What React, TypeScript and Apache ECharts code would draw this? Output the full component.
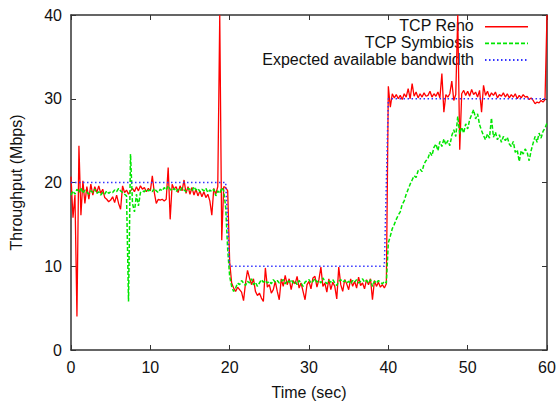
import React, { useEffect, useRef } from "react";
import * as echarts from "echarts";

// Sampling interval of the throughput traces (seconds)
const TIME_STEP = 0.25;

// TCP Reno throughput (Mbps), one value every 0.25 s from 0 to 60 s
const renoThroughput = [
  20.7, 15.8, 18.5, 4.0, 24.4, 16.1, 20.2, 17.5, 19.5, 18.0, 19.8, 18.5, 19.5, 18.8, 19.6, 18.7, 19.2, 18.2, 18.0, 17.7,
  17.9, 18.3, 17.6, 18.5, 17.5, 16.8, 19.6, 18.8, 19.1, 18.6, 19.0, 19.3, 18.9, 19.5, 19.0, 19.6, 19.2, 19.4, 18.9, 19.3,
  19.0, 20.8, 18.8, 17.5, 18.0, 17.9, 18.0, 17.8, 18.0, 21.8, 15.6, 19.8, 19.2, 19.5, 18.8, 19.6, 19.0, 20.3, 18.7, 19.5,
  18.6, 19.4, 18.5, 19.2, 18.4, 19.0, 18.3, 18.9, 18.2, 18.6, 17.8, 16.1, 19.3, 18.6, 19.5, 40.0, 13.1, 19.5, 19.4, 19.0,
  10.5, 8.0, 7.4, 7.0, 7.5, 7.2, 6.9, 5.9, 8.0, 9.5, 8.6, 7.8, 8.5, 7.0, 6.5, 6.8, 6.2, 5.8, 9.8, 7.5,
  7.8, 6.8, 7.2, 8.2, 7.0, 6.0, 8.5, 7.6, 8.9, 7.8, 8.5, 7.2, 8.3, 7.9, 8.8, 7.4, 8.0, 7.0, 6.0, 7.8,
  8.2, 7.3, 8.6, 8.8, 7.5, 8.4, 9.9, 7.6, 8.0, 6.9, 8.5, 7.2, 8.1, 7.6, 6.1, 9.9, 7.8, 7.0, 8.4, 7.9,
  7.2, 8.5, 7.6, 8.2, 7.4, 8.7, 7.7, 8.0, 7.3, 8.4, 7.8, 8.5, 6.0, 8.3, 7.6, 8.1, 7.5, 7.8, 7.4, 7.9,
  31.5, 29.0, 30.6, 30.1, 30.5, 30.0, 30.4, 29.9, 30.6, 30.2, 31.2, 30.0, 31.8, 30.3, 30.8, 30.1, 30.6, 30.2, 30.7, 30.3,
  30.4, 30.9, 30.2, 30.6, 30.3, 30.8, 30.1, 33.0, 28.4, 30.5, 30.2, 30.6, 32.1, 29.8, 30.5, 40.0, 23.9, 30.6, 31.0, 30.4,
  30.9, 30.3, 31.1, 30.5, 30.8, 30.2, 31.0, 28.4, 31.6, 30.4, 30.9, 30.2, 30.7, 30.4, 30.8, 30.1, 30.5, 30.3, 30.7, 30.2,
  30.6, 30.1, 30.5, 30.2, 30.6, 30.0, 30.4, 30.1, 30.5, 30.2, 30.3, 29.9, 30.1, 29.8, 29.4, 29.6, 29.5, 29.8, 29.6, 29.9,
  40.0,
];

// TCP Symbiosis throughput (Mbps), one value every 0.25 s from 0 to 60 s
const symbiosisThroughput = [
  18.5, 19.0, 18.6, 19.2, 18.8, 19.4, 18.7, 19.1, 18.9, 18.6, 19.0, 18.8, 19.2, 18.7, 18.9, 18.5, 18.8, 18.6, 19.0, 18.7,
  18.9, 18.8, 19.1, 18.9, 19.3, 19.0, 18.8, 18.6, 18.4, 5.8, 23.4, 17.5, 16.5, 18.6, 17.2, 18.8, 19.0, 18.9, 19.2, 19.0,
  19.1, 18.9, 19.3, 19.0, 18.8, 19.2, 19.0, 19.4, 19.1, 19.6, 19.2, 19.0, 19.3, 18.9, 19.2, 19.0, 19.4, 19.1, 18.9, 19.3,
  19.2, 19.0, 19.5, 19.1, 19.3, 18.9, 19.2, 19.0, 19.3, 18.8, 19.1, 18.9, 19.2, 18.4, 19.0, 18.7, 19.4, 19.0, 17.0, 12.0,
  8.8, 7.6, 7.0, 7.4, 8.0, 7.8, 8.3, 8.0, 7.7, 8.2, 8.0, 8.5, 7.8, 8.1, 7.6, 8.0, 8.4, 8.1, 8.3, 8.0,
  8.2, 7.9, 8.4, 8.1, 8.3, 8.0, 8.2, 8.4, 7.9, 8.3, 8.1, 8.4, 8.0, 8.2, 7.8, 8.3, 8.0, 7.6, 8.1, 8.3,
  8.4, 8.0, 8.2, 8.5, 8.1, 8.3, 8.0, 8.6, 8.2, 7.9, 8.3, 8.1, 8.4, 8.0, 7.7, 8.2, 8.4, 8.1, 8.3, 8.0,
  8.2, 7.9, 8.3, 8.1, 8.4, 8.0, 8.2, 8.5, 8.1, 8.3, 8.0, 8.4, 7.6, 8.2, 8.0, 8.3, 8.1, 7.9, 8.2, 8.0,
  12.8, 13.6, 14.5, 15.0, 15.6, 16.1, 16.5, 17.4, 17.8, 18.6, 19.2, 19.8, 20.3, 20.8, 20.6, 21.4, 21.6, 21.3, 22.2, 22.6,
  22.9, 23.6, 23.2, 24.2, 24.6, 23.8, 24.9, 24.3, 25.2, 24.5, 25.0, 24.4, 25.6, 26.3, 25.5, 27.9, 25.8, 26.6, 25.9, 27.0,
  26.4, 27.5, 28.1, 28.7, 27.6, 28.2, 26.9, 26.2, 25.6, 25.1, 25.8, 25.3, 27.7, 25.4, 26.0, 25.1, 25.7, 24.8, 25.5, 25.0,
  25.4, 24.6, 24.3, 24.9, 23.6, 23.9, 22.5, 23.8, 23.4, 24.0, 23.6, 22.6, 23.8, 24.7, 25.5, 24.8, 25.9, 25.3, 26.1, 26.5,
  27.1,
];

// Expected available bandwidth (step profile)
const bandwidthTime = [0, 19.5, 20, 39.5, 40, 60];
const bandwidthValue = [20, 20, 10, 10, 30, 30];

const seriesNames = ["TCP Reno", "TCP Symbiosis", "Expected available bandwidth"];
const seriesColors = ["#ff0000", "#00e600", "#3333ff"];
const seriesDash: (number[] | "solid")[] = ["solid", [4, 2], [1.5, 2.5]];
const seriesWidth = [1.3, 1.5, 1.5];

const FONT = "'Liberation Sans', Arial, Helvetica, sans-serif";
const AXIS_COLOR = "#333";
const TEXT_COLOR = "#111";

export default function App() {
  const ref = useRef<HTMLDivElement>(null);

  useEffect(() => {
    if (!ref.current) return;
    const chart = echarts.init(ref.current, null, { renderer: "svg" });

    const toPairs = (vals: number[]) => vals.map((v, i) => [i * TIME_STEP, v]);
    const bwPairs = bandwidthTime.map((t, i) => [t, bandwidthValue[i]]);
    const seriesData = [toPairs(renoThroughput), toPairs(symbiosisThroughput), bwPairs];

    const axisLine = { show: true, onZero: false, lineStyle: { color: AXIS_COLOR, width: 1.5 } };
    const axisTick = { show: true, inside: true, length: 5, lineStyle: { color: AXIS_COLOR, width: 1 } };

    // gnuplot-style key: right-aligned labels with line samples on their right
    const legendRowY = [26.7, 43.3, 60];
    const legendGraphics: any[] = [];
    seriesNames.forEach((name, i) => {
      legendGraphics.push({
        type: "text",
        right: 86,
        top: legendRowY[i] - 9,
        style: { text: name, fontSize: 16, fontFamily: FONT, fill: TEXT_COLOR, align: "right" },
      });
      legendGraphics.push({
        type: "line",
        shape: { x1: 485, y1: legendRowY[i], x2: 528, y2: legendRowY[i] },
        style: {
          stroke: seriesColors[i],
          lineWidth: seriesWidth[i] + 0.3,
          lineDash: seriesDash[i] === "solid" ? null : seriesDash[i],
        },
      });
    });

    chart.setOption({
      animation: false,
      backgroundColor: "#fff",
      textStyle: { fontFamily: FONT },
      grid: { left: 71, right: 13, top: 15, bottom: 56, containLabel: false },
      graphic: legendGraphics,
      xAxis: [
        {
          type: "value",
          position: "bottom",
          min: 0,
          max: 60,
          interval: 10,
          axisLine,
          axisTick,
          splitLine: { show: false },
          axisLabel: { fontSize: 16, color: TEXT_COLOR, margin: 9, fontFamily: FONT },
          name: "Time (sec)",
          nameLocation: "middle",
          nameGap: 34,
          nameTextStyle: { fontSize: 16, color: TEXT_COLOR, fontFamily: FONT },
        },
        {
          type: "value",
          position: "top",
          min: 0,
          max: 60,
          interval: 10,
          axisLine,
          axisTick,
          splitLine: { show: false },
          axisLabel: { show: false },
        },
      ],
      yAxis: [
        {
          type: "value",
          position: "left",
          min: 0,
          max: 40,
          interval: 10,
          axisLine,
          axisTick,
          splitLine: { show: false },
          axisLabel: { fontSize: 16, color: TEXT_COLOR, margin: 9, fontFamily: FONT },
          name: "Throughput (Mbps)",
          nameLocation: "middle",
          nameGap: 47,
          nameTextStyle: { fontSize: 16, color: TEXT_COLOR, fontFamily: FONT },
        },
        {
          type: "value",
          position: "right",
          min: 0,
          max: 40,
          interval: 10,
          axisLine,
          axisTick,
          splitLine: { show: false },
          axisLabel: { show: false },
        },
      ],
      series: seriesNames.map((name, i) => ({
        name,
        type: "line",
        xAxisIndex: 0,
        yAxisIndex: 0,
        symbol: "none",
        data: seriesData[i],
        lineStyle: { color: seriesColors[i], width: seriesWidth[i], type: seriesDash[i] },
        itemStyle: { color: seriesColors[i] },
      })),
    });

    return () => chart.dispose();
  }, []);

  return (
    <div
      ref={ref}
      style={{ position: "fixed", left: 0, top: 0, width: 560, height: 406, background: "#fff" }}
    />
  );
}
